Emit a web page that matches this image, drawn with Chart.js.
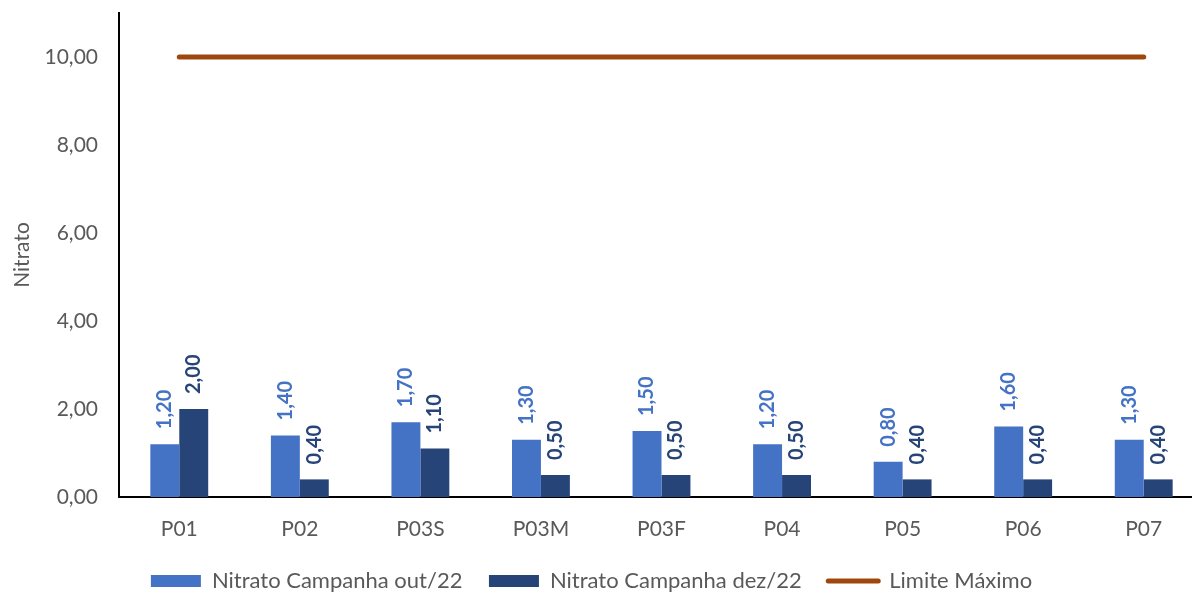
<!DOCTYPE html>
<html>
<head>
<meta charset="utf-8">
<script src="https://cdn.jsdelivr.net/npm/chart.js@4.4.0/dist/chart.umd.min.js"></script>
<style>
html, body { margin: 0; padding: 0; background: #fff; overflow: hidden; }
#clip { width: 1192px; height: 594px; overflow: hidden; }
#wrap { width: 1233.5px; height: 602px; margin-left: -21.5px; position: relative; }
</style>
</head>
<body>
<div id="clip"><div id="wrap"><canvas id="chartNitrato"></canvas></div></div>
<script>
// pontos de coleta e valores de nitrato
const pontos = ['P01', 'P02', 'P03S', 'P03M', 'P03F', 'P04', 'P05', 'P06', 'P07'];
const nitratoOut = [1.2, 1.4, 1.7, 1.3, 1.5, 1.2, 0.8, 1.6, 1.3];
const nitratoDez = [2.0, 0.4, 1.1, 0.5, 0.5, 0.5, 0.4, 0.4, 0.4];
const limiteMaximo = [10, 10, 10, 10, 10, 10, 10, 10, 10];
const yTicks = [0, 2, 4, 6, 8, 10];

const FONTE = 'Lato';
const fmt = v => v.toFixed(2).replace('.', ',');

// rotulos verticais acima das barras
const rotuloBarras = {
    id: 'rotuloBarras',
    afterDatasetsDraw(chart) {
        const ctx = chart.ctx;
        chart.data.datasets.forEach((ds, i) => {
            if (ds.type === 'line') return;
            chart.getDatasetMeta(i).data.forEach((bar, j) => {
                ctx.save();
                ctx.translate(bar.x, bar.y - 15);
                ctx.rotate(-Math.PI / 2);
                ctx.font = 'bold 20px ' + FONTE;
                ctx.fillStyle = ds.backgroundColor;
                ctx.textAlign = 'left';
                ctx.textBaseline = 'middle';
                ctx.fillText(fmt(ds.data[j]), 0, 0);
                ctx.restore();
            });
        });
    }
};

const data = {
    labels: pontos,
    datasets: [
        {
            label: 'Nitrato Campanha out/22',
            data: nitratoOut,
            backgroundColor: '#4472C4',
            categoryPercentage: 0.48,
            barPercentage: 1,
        },
        {
            label: 'Nitrato Campanha dez/22',
            data: nitratoDez,
            backgroundColor: '#264478',
            categoryPercentage: 0.48,
            barPercentage: 1,
        },
        {
            type: 'line',
            label: 'Limite Máximo',
            data: limiteMaximo,
            borderColor: '#9E480E',
            backgroundColor: '#9E480E',
            borderWidth: 5,
            borderCapStyle: 'round',
            pointRadius: 0,
        }
    ]
};

const options = {
    responsive: true,
    maintainAspectRatio: false,
    animation: false,
    layout: {
        padding: { top: 13, right: 8.5, left: 0, bottom: 0 }
    },
    plugins: {
        tooltip: { enabled: false },
        legend: {
            position: 'bottom',
            labels: {
                usePointStyle: true,
                pointStyleWidth: 50,
                boxHeight: 12,
                padding: 26.5,
                color: '#595959',
                font: { family: FONTE, size: 22 },
                generateLabels(chart) {
                    return chart.data.datasets.map((ds, i) => {
                        const linha = ds.type === 'line';
                        return {
                            text: ds.label,
                            fillStyle: linha ? ds.borderColor : ds.backgroundColor,
                            strokeStyle: linha ? ds.borderColor : ds.backgroundColor,
                            lineWidth: linha ? 5 : 0,
                            lineCap: 'round',
                            pointStyle: linha ? 'line' : 'rect',
                            fontColor: '#595959',
                            hidden: false,
                            datasetIndex: i
                        };
                    });
                }
            }
        }
    },
    scales: {
        x: {
            afterFit: s => { s.height = 46.5; },
            grid: { display: false, drawTicks: false },
            border: { color: '#000', width: 2 },
            ticks: { padding: 20, color: '#595959', font: { family: FONTE, size: 21 } }
        },
        y: {
            min: 0,
            max: 11,
            afterBuildTicks: s => { s.ticks = yTicks.map(v => ({ value: v })); },
            afterFit: s => { s.width = 140; s.paddingTop = 0; s.paddingBottom = 0; },
            grid: { display: false, drawTicks: false },
            border: { color: '#000', width: 2 },
            ticks: {
                padding: 21,
                color: '#595959',
                font: { family: FONTE, size: 21 },
                callback: v => fmt(v)
            },
            title: {
                display: true,
                text: 'Nitrato',
                color: '#595959',
                font: { family: FONTE, size: 21 },
                padding: { top: 30.5, bottom: 0 }
            }
        }
    }
};

const ctx = document.getElementById('chartNitrato').getContext('2d');
new Chart(ctx, { type: 'bar', data: data, options: options, plugins: [rotuloBarras] });
</script>
</body>
</html>
